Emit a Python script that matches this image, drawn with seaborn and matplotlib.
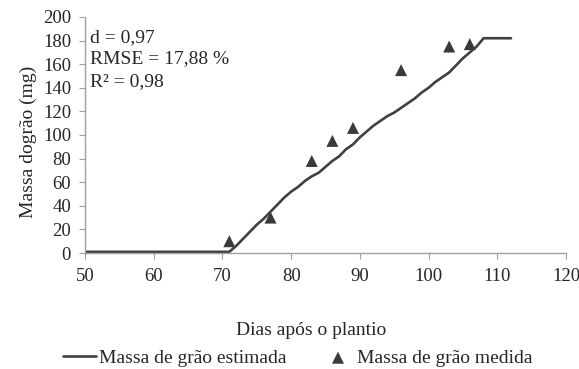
import numpy as np
import pandas as pd
import seaborn as sns
from matplotlib import pyplot as plt

# estimated curve (daily)
est_days = list(range(50, 113))
est_mass = [1] * 22 + [6, 12, 18, 24, 29, 35, 41, 47, 52, 56, 61, 65, 68, 73, 78, 82,
                       88, 92, 98, 103, 108, 112, 116, 119, 123, 127, 131, 136, 140,
                       145, 149, 153, 159, 165, 170, 175, 182, 182, 182, 182, 182]

# measured points
med_days = [71, 77, 83, 86, 89, 96, 103, 106]
med_mass = [10, 30, 78, 95, 106, 155, 175, 177]

x_ticks = [50, 60, 70, 80, 90, 100, 110, 120]
y_ticks = list(range(0, 201, 20))
stats = ['d = 0,97', 'RMSE = 17,88 %', 'R² = 0,98']

sns.set_style('white')
plt.rcParams['font.family'] = ['Liberation Serif', 'DejaVu Serif']

est = pd.DataFrame({'dias': est_days, 'massa': est_mass})
med = pd.DataFrame({'dias': med_days, 'massa': med_mass})

W, H = 579, 369
fig = plt.figure(figsize=(W / 100, H / 100), dpi=100)
ax = fig.add_axes([85 / W, 1 - 253 / H, 481 / W, 236 / H])

sns.lineplot(data=est, x='dias', y='massa', ax=ax, color='#404040', linewidth=1.9,
             label='Massa de grão estimada')
sns.scatterplot(data=med, x='dias', y='massa', ax=ax, marker='^', color='#3a3a3a',
                s=75, edgecolor='none', label='Massa de grão medida')

ax.set_xlim(50, 120)
ax.set_ylim(0, 200)
ax.set_xticks(x_ticks)
ax.set_yticks(y_ticks)
ax.tick_params(labelsize=13.5, length=4, color='#a0a0a0', direction='out',
               bottom=True, left=True)
ax.tick_params(axis='x', pad=6.5)
ax.tick_params(axis='y', pad=6)
for side in ['top', 'right']:
    ax.spines[side].set_visible(False)
for side in ['left', 'bottom']:
    ax.spines[side].set_color('#a0a0a0')
    ax.spines[side].set_linewidth(1)

ax.set_xlabel('Dias após o plantio', fontsize=14)
ax.xaxis.set_label_coords((311 - 85) / 481, (253 - 335) / 236)
ax.xaxis.label.set_va('baseline')
ax.set_ylabel('Massa dogrão (mg)', fontsize=14)
ax.yaxis.set_label_coords((28 - 85) / 481, (253 - 142) / 236)
ax.yaxis.label.set_va('center')

for i, (s, base) in enumerate(zip(stats, [41.7, 63.5, 86.5])):
    ax.text((90 - 85) / 481, (253 - base) / 236, s, transform=ax.transAxes,
            fontsize=14, va='baseline', ha='left')

ax.legend(loc='center left', bbox_to_anchor=(63 / W, 1 - 358 / H),
          bbox_transform=fig.transFigure, ncol=2, frameon=False,
          fontsize=14, handlelength=1.7, handletextpad=0.15, columnspacing=1.8,
          borderpad=0, borderaxespad=0)

fig.savefig('out.png', dpi=100)
